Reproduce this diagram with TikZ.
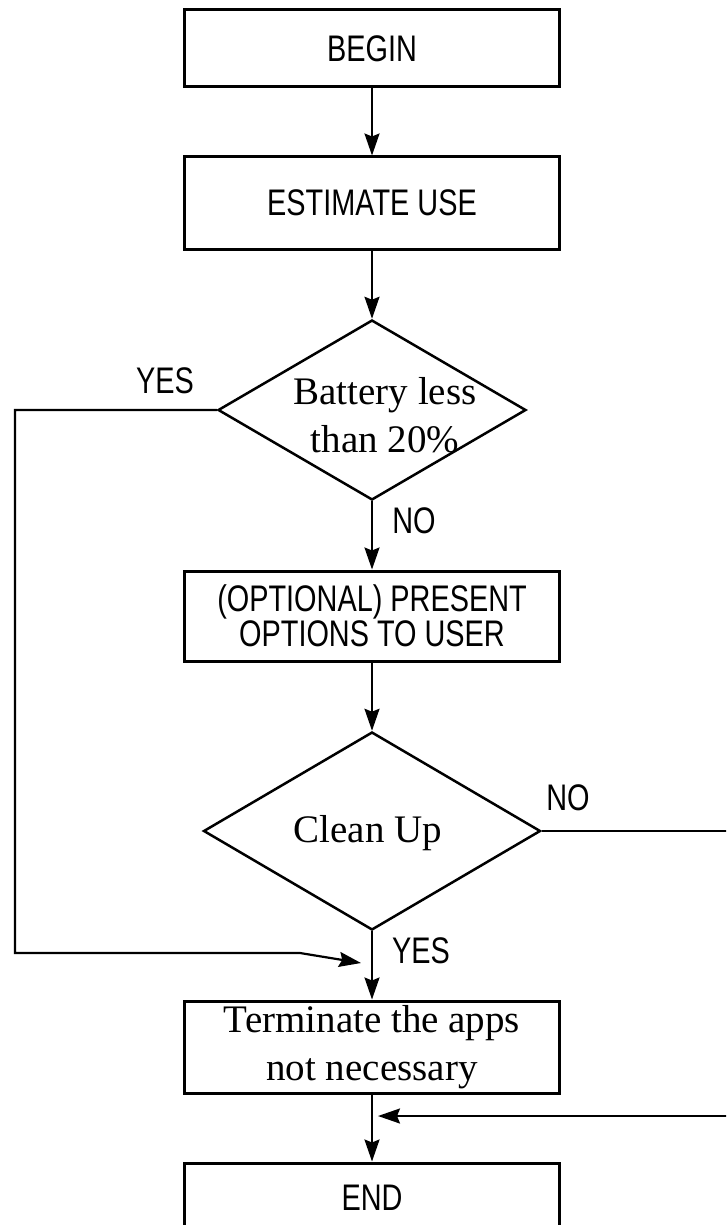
\documentclass[tikz,border=0pt]{standalone}
\usepackage{fontspec}
\setmainfont{Liberation Serif}
\newfontfamily\capsfont[FakeStretch=0.78]{Liberation Sans}
\usetikzlibrary{shapes.geometric,arrows.meta}

\begin{document}
\begin{tikzpicture}[x=1pt,y=-1pt,->,>={Stealth[length=22pt,width=15pt,inset=3pt]},line width=2.2pt,
  proc/.style={draw,rectangle,line width=3pt,minimum width=375pt,inner sep=0pt},
  decide/.style={draw,diamond,line width=2.5pt,inner sep=0pt},
  caps/.style={font=\capsfont\fontsize{37}{35}\selectfont,align=center},
  serif/.style={font=\fontsize{39}{48}\selectfont,align=center}]
\clip (0,0) rectangle (726,1225);
\node[proc,caps,minimum height=77pt] (begin) at (372,48.5) {BEGIN};
\node[proc,caps,minimum height=92pt] (estimate) at (372,203) {ESTIMATE USE};
\node[decide,minimum width=308pt,minimum height=180pt] (battery) at (372,410) {};
\node[serif] (batterytxt) at (385,415) {Battery less\\than 20\%};
\node[proc,caps,minimum height=90pt] (options) at (372,616) {(OPTIONAL) PRESENT\\OPTIONS TO USER};
\node[decide,minimum width=337pt,minimum height=198pt] (clean) at (372,831) {};
\node[serif] (cleantxt) at (368,833) {Clean Up};
\node[proc,serif,minimum height=92pt] (terminate) at (372,1047) {Terminate the apps\\not necessary};
\node[proc,caps,minimum height=70pt] (finish) at (372,1198) {END};
% branch labels
\node[caps] (yesleft) at (165,381) {YES};
\node[caps] (nobattery) at (414,521) {NO};
\node[caps] (noclean) at (568,798) {NO};
\node[caps] (yesclean) at (421,951) {YES};
\coordinate (yesturn) at (15,953);
\coordinate (yesbend) at (300,953);
\coordinate (yesend) at (361,963);
\coordinate (nojoin) at (378,1116);
\draw (begin) -- (estimate);
\draw (estimate) -- (battery.north);
\draw (battery.south) -- (options);
\draw (options) -- (clean.north);
\draw (clean.south) -- (terminate);
\draw (terminate) -- (finish);
\draw (battery.west) -| (yesturn) -- (yesbend) -- (yesend);
\draw (clean.east) -- ++(200,0) |- (nojoin);
\end{tikzpicture}
\end{document}
